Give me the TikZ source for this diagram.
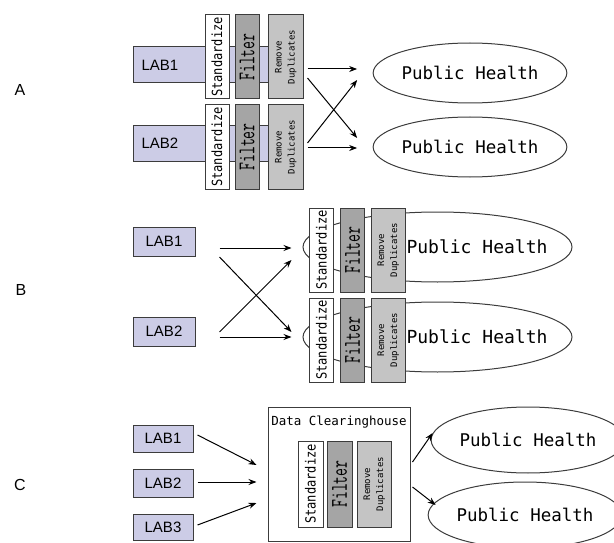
\documentclass[tikz,border=0pt]{standalone}
\usepackage{fontspec}
\setmainfont{Liberation Sans}
\newfontfamily\phfont{DejaVu Sans Mono}
\usetikzlibrary{arrows.meta,shapes.geometric}
\definecolor{labfill}{RGB}{204,204,230}
\definecolor{filtfill}{RGB}{165,165,165}
\definecolor{remfill}{RGB}{196,196,196}
\definecolor{edgegray}{RGB}{60,60,60}
\newcommand{\stdtext}{\rotatebox{90}{\scalebox{0.86}[1]{\fontsize{14}{14}\selectfont\phfont Standardize}}}
\newcommand{\filttext}{\rotatebox{90}{\scalebox{0.64}[1]{\fontsize{24}{24}\selectfont\ttfamily Filter}}}
\newcommand{\remtext}{\rotatebox{90}{\fontsize{9}{13}\selectfont\phfont\begin{tabular}{@{}c@{}}Remove\\Duplicates\end{tabular}}}
\begin{document}
\begin{tikzpicture}[x=1pt,y=-1pt]
	\tikzstyle{Lab} = [rectangle, draw=edgegray, fill=labfill, line width=1pt, inner sep=0pt, font=\fontsize{15}{15}\selectfont]
	\tikzstyle{Std} = [rectangle, draw=edgegray, fill=white, line width=1pt, inner sep=0pt, minimum width=24pt, minimum height=84pt]
	\tikzstyle{Filt} = [Std, fill=filtfill]
	\tikzstyle{Rem} = [Std, fill=remfill, minimum width=35pt]
	\tikzstyle{Health} = [ellipse, draw=edgegray, line width=1pt, inner sep=0pt, font=\fontsize{17.5}{17.5}\selectfont\phfont]
	\tikzstyle{arrow} = [line width=1pt, -{Stealth[length=8pt,width=6pt]}]
	\tikzstyle{Tag} = [font=\fontsize{16}{16}\selectfont]
	
	\useasboundingbox (0,0) rectangle (614,543);
	\clip (0,0) rectangle (614,543);
	
	% A
	\node[Tag] (tagA) at (20,90) {A};
	\node[Lab, anchor=west, inner xsep=8pt, text width=119pt, minimum height=36pt] (a1lab) at (133,65) {LAB1};
	\node[Lab, anchor=west, inner xsep=8pt, text width=119pt, minimum height=35pt] (a2lab) at (133,143.5) {LAB2};
	\node[Std] (a1std) at (217,57) {\stdtext};
	\node[Filt] (a1filt) at (247,57) {\filttext};
	\node[Rem] (a1rem) at (285.5,57) {\remtext};
	\node[Std] (a2std) at (217,147) {\stdtext};
	\node[Filt] (a2filt) at (247,147) {\filttext};
	\node[Rem] (a2rem) at (285.5,147) {\remtext};
	\node[Health, minimum width=165pt, minimum height=60pt] (a1ph) at (470,73) {Public Health};
	\node[Health, minimum width=165pt, minimum height=60pt] (a2ph) at (470,147) {Public Health};
	\draw[arrow] ([shift={(4,12)}]a1rem.east) -- ([shift={(-15.5,-4)}]a1ph.west);
	\draw[arrow] ([shift={(4,21)}]a1rem.east) -- ([shift={(-15.5,-9)}]a2ph.west);
	\draw[arrow] ([shift={(4,-4)}]a2rem.east) -- ([shift={(-15.5,7)}]a1ph.west);
	\draw[arrow] ([shift={(4,1)}]a2rem.east) -- ([shift={(-15.5,1)}]a2ph.west);
	
	% B
	\node[Tag] (tagB) at (21,290) {B};
	\node[Lab, minimum width=62pt, minimum height=29pt] (b1lab) at (164,241.5) {LAB1};
	\node[Lab, minimum width=62pt, minimum height=29pt] (b2lab) at (164,331.5) {LAB2};
	\node[Health, minimum width=269pt, minimum height=70pt] (b1ph) at (437.5,247) {};
	\node[Health, minimum width=269pt, minimum height=70pt] (b2ph) at (437.5,337) {};
	\node[Std] (b1std) at (321.5,250) {\stdtext};
	\node[Filt] (b1filt) at (352.5,250) {\filttext};
	\node[Rem, minimum width=34pt] (b1rem) at (388,250) {\remtext};
	\node[Std] (b2std) at (321.5,340) {\stdtext};
	\node[Filt] (b2filt) at (352.5,340) {\filttext};
	\node[Rem, minimum width=34pt] (b2rem) at (388,340) {\remtext};
	\node[font=\fontsize{18}{18}\selectfont\phfont] (b1txt) at (477,247) {Public Health};
	\node[font=\fontsize{18}{18}\selectfont\phfont] (b2txt) at (477,337) {Public Health};
	\draw[arrow] ([shift={(24,6.5)}]b1lab.east) -- ([shift={(-11,1)}]b1ph.west);
	\draw[arrow] ([shift={(24,15.5)}]b1lab.east) -- ([shift={(-11,-5)}]b2ph.west);
	\draw[arrow] ([shift={(24,0.5)}]b2lab.east) -- ([shift={(-11,13)}]b1ph.west);
	\draw[arrow] ([shift={(24,5.5)}]b2lab.east) -- ([shift={(-11,0)}]b2ph.west);
	
	% C
	\node[Tag] (tagC) at (20,485) {C};
	\node[Lab, minimum width=60pt, minimum height=27pt] (c1lab) at (163,438.5) {LAB1};
	\node[Lab, minimum width=60pt, minimum height=28pt] (c2lab) at (163,483) {LAB2};
	\node[Lab, minimum width=60pt, minimum height=26pt] (c3lab) at (163,527) {LAB3};
	\node[draw=edgegray, line width=1pt, minimum width=142pt, minimum height=134pt] (chbox) at (339,474) {};
	\node[font=\fontsize{12.5}{12.5}\selectfont\phfont] (chtitle) at (339,422) {Data Clearinghouse};
	\node[Std, minimum width=25pt, minimum height=86pt] (cstd) at (310.5,484) {\stdtext};
	\node[Filt, minimum width=25pt, minimum height=86pt] (cfilt) at (339.5,484) {\filttext};
	\node[Rem, minimum width=34pt, minimum height=86pt] (crem) at (374,484) {\remtext};
	\node[Health, minimum width=170pt, minimum height=66pt] (c1ph) at (528,440) {Public Health};
	\node[Health, minimum width=176pt, minimum height=66pt] (c2ph) at (525,515) {Public Health};
	\draw[arrow] ([shift={(4,-3.5)}]c1lab.east) -- ([shift={(-11,-9)}]chbox.west);
	\draw[arrow] ([shift={(4,-1)}]c2lab.east) -- ([shift={(-11,8)}]chbox.west);
	\draw[arrow] ([shift={(4,-2)}]c3lab.east) -- ([shift={(-11,29)}]chbox.west);
	\draw[arrow] ([shift={(2,-12)}]chbox.east) -- ([shift={(2,-7)}]c1ph.west);
	\draw[arrow] ([shift={(2,13)}]chbox.east) -- ([shift={(8,-10)}]c2ph.west);
\end{tikzpicture}
\end{document}
